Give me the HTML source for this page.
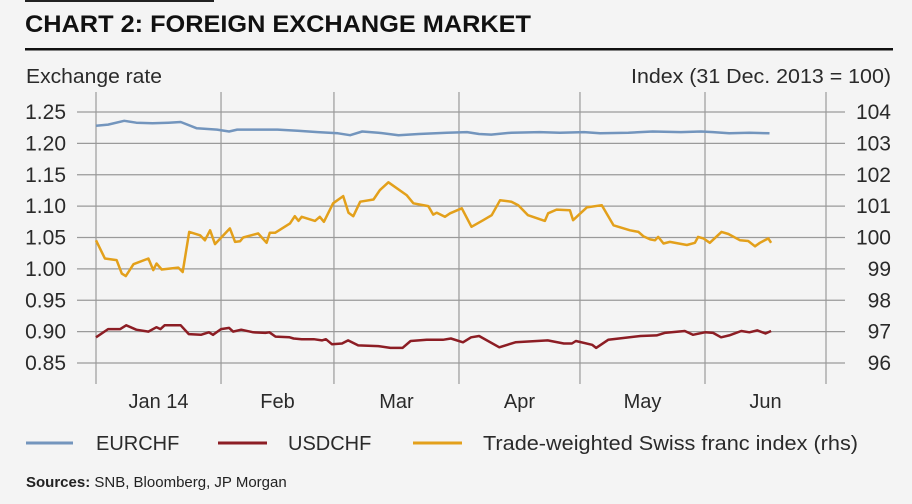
<!DOCTYPE html>
<html><head><meta charset="utf-8"><style>
html,body{margin:0;padding:0;background:#f4f4f4;}
body{width:912px;height:504px;overflow:hidden;font-family:"Liberation Sans",sans-serif;}
</style></head><body>
<svg id="chart" width="912" height="504" xmlns="http://www.w3.org/2000/svg" style="display:block">
<rect width="912" height="504" fill="#f4f4f4"/>
<rect x="25" y="0" width="189" height="2" fill="#222"/>
<text x="25" y="32" font-size="24" font-weight="bold" fill="#111" textLength="506" lengthAdjust="spacingAndGlyphs">CHART 2: FOREIGN EXCHANGE MARKET</text>
<rect x="25" y="48" width="868" height="2.5" fill="#111"/>
<text x="26" y="83" font-size="20" fill="#2a2a2a" textLength="136" lengthAdjust="spacingAndGlyphs">Exchange rate</text>
<text x="891" y="83" font-size="20" fill="#2a2a2a" text-anchor="end" textLength="260" lengthAdjust="spacingAndGlyphs">Index (31 Dec. 2013 = 100)</text>
<g id="grid"></g>
<g id="series"></g>
<g>
<line x1="26" y1="443" x2="73" y2="443" stroke="#7395bd" stroke-width="3"/>
<text x="96" y="450" font-size="20" fill="#2a2a2a">EURCHF</text>
<line x1="218" y1="443" x2="267" y2="443" stroke="#8c1d24" stroke-width="3"/>
<text x="288" y="450" font-size="20" fill="#2a2a2a">USDCHF</text>
<line x1="413" y1="443" x2="462" y2="443" stroke="#e3a01b" stroke-width="3"/>
<text x="483" y="450" font-size="20" fill="#2a2a2a" textLength="375" lengthAdjust="spacingAndGlyphs">Trade-weighted Swiss franc index (rhs)</text>
</g>
<text x="26" y="487" font-size="15" fill="#222"><tspan font-weight="bold">Sources:</tspan> SNB, Bloomberg, JP Morgan</text>
</svg>
<script>
const leftTicks = [1.25,1.20,1.15,1.10,1.05,1.00,0.95,0.90,0.85];
const leftTickLabels = ["1.25","1.20","1.15","1.10","1.05","1.00","0.95","0.90","0.85"];
const rightTickLabels = ["104","103","102","101","100","99","98","97","96"];
const monthBounds = [0,31,59,90,120,151,181];
const monthLabels = ["Jan 14","Feb","Mar","Apr","May","Jun"];
const eurDays = [0,3,7,10,14,18,21,25,30,33,35,40,45,50,55,60,63,66,70,75,80,87,92,95,98,103,110,115,121,125,132,138,145,150,153,157,162,167];
const eurVals = [1.228,1.230,1.236,1.233,1.232,1.233,1.234,1.224,1.222,1.219,1.222,1.222,1.222,1.220,1.218,1.216,1.213,1.219,1.217,1.213,1.215,1.217,1.218,1.215,1.214,1.217,1.218,1.217,1.218,1.216,1.217,1.219,1.218,1.219,1.218,1.216,1.217,1.216];
const usdDays = [0,3,6,7.5,10,13,15,16,17,21,23,26,28,29,31,33,34,36,39,42,43,44.5,48,49,51,54,56,57,58.5,61,62.5,65,70,73,76,78,82,86,88,91,93,95,100,104,112,116,118,119,123,124,127,131,135,139,141,146,148,151,153,155,157,160,162,164,166,167.4];
const usdVals = [0.891,0.904,0.904,0.910,0.903,0.900,0.907,0.904,0.910,0.910,0.896,0.895,0.899,0.895,0.904,0.906,0.900,0.903,0.899,0.898,0.899,0.892,0.891,0.889,0.888,0.888,0.886,0.888,0.880,0.881,0.886,0.878,0.877,0.874,0.874,0.885,0.887,0.887,0.889,0.883,0.891,0.893,0.875,0.883,0.886,0.881,0.881,0.885,0.879,0.874,0.887,0.890,0.893,0.894,0.898,0.901,0.895,0.899,0.898,0.891,0.894,0.901,0.899,0.902,0.897,0.901];
const twiDays = [0,2.2,5.1,6.4,7.4,9.3,13,14.2,15,16.3,20.4,21.5,23.1,25.8,27,28.3,29.5,33.2,34.5,35.7,36.5,40.2,42.3,43.1,44.4,48.1,49.3,50.2,51,54.3,55.5,56.5,58.8,61.3,62.6,63.8,65.5,68.8,70.4,72.5,77,78.7,82.4,83.6,84.5,86.5,87.8,90.7,93.1,96,98.1,100.2,103,104.7,107.1,111.3,112.1,114.2,117.5,118.3,119.6,121.7,125.4,128.3,132.4,134.5,135.7,137.4,138.6,139.4,140.7,142.3,146.5,148.5,149.3,150.6,152.2,155.1,156.8,159.7,161.7,163.4,164.6,166.7,167.4];
const twiVals = [99.91,99.33,99.28,98.85,98.77,99.15,99.33,98.96,99.17,98.98,99.04,98.90,100.18,100.07,99.91,100.23,99.79,100.29,99.86,99.88,100.0,100.13,99.83,100.15,100.15,100.45,100.68,100.53,100.66,100.53,100.66,100.5,101.09,101.32,100.79,100.68,101.14,101.21,101.51,101.76,101.35,101.09,101.0,100.73,100.79,100.66,100.77,100.93,100.34,100.55,100.71,101.19,101.14,101.03,100.71,100.53,100.77,100.89,100.87,100.55,100.71,100.96,101.03,100.39,100.23,100.18,100.04,99.94,99.91,100.02,99.81,99.86,99.76,99.83,100.02,99.97,99.83,100.18,100.11,99.91,99.89,99.72,99.83,99.97,99.83];

const NS = "http://www.w3.org/2000/svg";
const X0 = 96, X1 = 826, Y125 = 112, Y085 = 363;
function xScale(d){ return X0 + d * (X1 - X0) / 181; }
function yLeft(v){ return Y125 + (1.25 - v) * (Y085 - Y125) / 0.40; }
function yRight(v){ return yLeft(0.85 + (v - 96) / 20); }
function mk(tag, attrs, parent){ const e = document.createElementNS(NS, tag); for (const k in attrs) e.setAttribute(k, attrs[k]); parent.appendChild(e); return e; }

const grid = document.getElementById('grid');
leftTicks.forEach((t, i) => {
  const y = yLeft(t);
  const l = mk('line', {x1:77, x2:845, y1:y, y2:y, stroke:'#9a9a9a', 'stroke-width':1.2}, grid);
  
  
  const a = mk('text', {x:66, y:y+7, 'font-size':21, fill:'#2a2a2a', 'text-anchor':'end'}, grid);
  a.textContent = leftTickLabels[i];
  
  
  const b = mk('text', {x:891, y:y+7, 'font-size':21, fill:'#2a2a2a', 'text-anchor':'end'}, grid);
  b.textContent = rightTickLabels[i];
  
  
});
monthBounds.forEach(d => {
  const x = xScale(d);
  const l = mk('line', {x1:x, x2:x, y1:92, y2:384, stroke:'#9a9a9a', 'stroke-width':1.2}, grid);
  
  
});
monthLabels.forEach((m, i) => {
  const x = (xScale(monthBounds[i]) + xScale(monthBounds[i+1])) / 2;
  const t = mk('text', {x:x, y:408, 'font-size':20, fill:'#2a2a2a', 'text-anchor':'middle'}, grid);
  t.textContent = m;
  
  
});

const series = document.getElementById('series');
function line(days, vals, yf){
  return days.map((d, i) => xScale(d).toFixed(1) + ',' + yf(vals[i]).toFixed(1)).join(' ');
}
const pe = mk('polyline', {points:line(eurDays, eurVals, yLeft), fill:'none', stroke:'#7395bd', 'stroke-width':2.5, 'stroke-linejoin':'round'}, series);


const pu = mk('polyline', {points:line(usdDays, usdVals, yLeft), fill:'none', stroke:'#8c1d24', 'stroke-width':2.5, 'stroke-linejoin':'round'}, series);


const pt = mk('polyline', {points:line(twiDays, twiVals, yRight), fill:'none', stroke:'#e3a01b', 'stroke-width':2.5, 'stroke-linejoin':'round'}, series);


</script>
</body></html>
